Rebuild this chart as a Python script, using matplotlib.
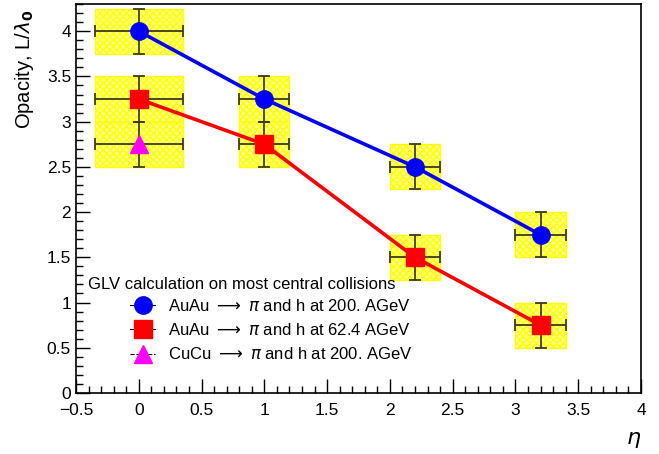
import matplotlib
matplotlib.use("Agg")
import matplotlib.pyplot as plt
from matplotlib.patches import Rectangle
from matplotlib.lines import Line2D
from matplotlib.ticker import MultipleLocator

plt.rcParams['font.family'] = ['Liberation Sans', 'DejaVu Sans']

# data
eta = [0, 1, 2.2, 3.2]
auau200 = [4.0, 3.25, 2.5, 1.75]
auau62 = [3.25, 2.75, 1.5, 0.75]
eta_cu = [0]
cucu200 = [2.75]
box_dx = [0.35, 0.2, 0.2, 0.2]   # systematic box half widths in eta
box_dx_cu = [0.35]
err_y = 0.25

labels = [r"AuAu $\longrightarrow$ $\pi$ and h at 200. AGeV",
          r"AuAu $\longrightarrow$ $\pi$ and h at 62.4 AGeV",
          r"CuCu $\longrightarrow$ $\pi$ and h at 200. AGeV"]

fig = plt.figure(figsize=(6.59, 4.54), dpi=100)
ax = fig.add_axes([0.1153, 0.1344, 0.8574, 0.8566])


def draw_set(x, y, dx, color, marker, line):
    for xi, yi, dxi in zip(x, y, dx):
        ax.add_patch(Rectangle((xi - dxi, yi - err_y), 2 * dxi, 2 * err_y,
                               facecolor='#ffff8c', edgecolor='#ffff00',
                               hatch='xxxxx', lw=1.0, zorder=1))
    ax.errorbar(x, y, xerr=dx, yerr=err_y, fmt='none', ecolor='#3c3c1c',
                elinewidth=1.3, capsize=4, capthick=1.3, zorder=2)
    if line:
        ax.plot(x, y, '-', color=color, lw=2.6, zorder=3)
    ax.plot(x, y, marker, color=color, ms=12.5, mec=color, ls='none', zorder=4)


draw_set(eta, auau200, box_dx, '#0000ff', 'o', True)
draw_set(eta, auau62, box_dx, '#ff0000', 's', True)
draw_set(eta_cu, cucu200, box_dx_cu, '#ff00ff', '^', False)

ax.set_xlim(-0.5, 4)
ax.set_ylim(0, 4.3)
ax.xaxis.set_major_locator(MultipleLocator(0.5))
ax.xaxis.set_minor_locator(MultipleLocator(0.1))
ax.yaxis.set_major_locator(MultipleLocator(0.5))
ax.yaxis.set_minor_locator(MultipleLocator(0.1))
ax.tick_params(which='both', direction='in', top=False, right=False,
               labelsize=12.5, width=1)
ax.tick_params(which='major', length=10)
ax.tick_params(which='minor', length=5)
ax.tick_params(axis='x', pad=7)
ax.set_xticklabels([f"{v:g}".replace('-', '\u2212') for v in ax.get_xticks()])
ax.set_yticklabels([f"{v:g}" for v in ax.get_yticks()])
for s in ax.spines.values():
    s.set_linewidth(1.2)

ax.set_ylabel(r"Opacity, L/$\lambda_{\mathbf{0}}$", fontsize=14.5, loc='top')
ax.yaxis.set_label_coords(-0.07, 0.985)
ax.set_xlabel(r"$\eta$", fontsize=16, loc='right', labelpad=8)

ax.text(0.021, 0.278, "GLV calculation on most central collisions",
        transform=ax.transAxes, fontsize=12, va='center', ha='left')
handles = [
    Line2D([], [], color='black', lw=0.8, marker='o', mfc='#0000ff', mec='#0000ff', ms=12.5),
    Line2D([], [], color='black', lw=0.8, marker='s', mfc='#ff0000', mec='#ff0000', ms=12.5),
    Line2D([], [], color='black', lw=0.8, ls='--', marker='^', mfc='#ff00ff', mec='#ff00ff', ms=12.5),
]
ax.legend(handles, labels, loc='upper left', bbox_to_anchor=(0.075, 0.275),
          frameon=False, fontsize=12, handlelength=1.5, handletextpad=0.8,
          labelspacing=0.5, borderpad=0.2)

fig.savefig("out.png", dpi=100)
